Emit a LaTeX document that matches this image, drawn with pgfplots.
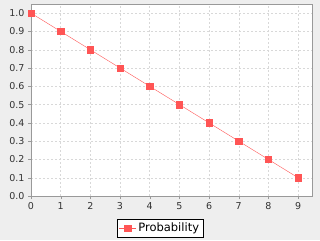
\documentclass[border=0pt]{standalone}
\usepackage{pgfplots}
\pgfplotsset{compat=1.18}
\usepackage{fontspec}
\setmainfont{DejaVu Sans}
\definecolor{bg}{HTML}{EEEEEE}
\definecolor{ser}{HTML}{FF5555}
\definecolor{grd}{HTML}{D8D8D8}
\begin{document}
\begin{tikzpicture}[x=1pt,y=1pt]
\fill[bg] (0,0) rectangle (320,240);
\begin{axis}[
  at={(31pt,44pt)}, anchor=south west,
  scale only axis, width=281pt, height=192pt,
  xmin=0, xmax=9.47, ymin=0, ymax=1.05,
  axis background/.style={fill=white},
  axis line style={draw=gray!80},
  xtick={0,1,...,9}, ytick={0,0.1,...,1.0},
  tick align=outside, tick pos=left,
  major tick length=3pt,
  tick style={draw=gray!80},
  grid=major, grid style={draw=grd, dash pattern=on 2pt off 2pt},
  tick label style={font=\fontsize{9.5}{11}\selectfont, text=black!80},
  /pgf/number format/assume math mode=true,
  yticklabel style={/pgf/number format/.cd, fixed, fixed zerofill, precision=1},
  legend style={at={(0.459,-0.167)}, anchor=center, draw=black, fill=white,
    font=\fontsize{11.5}{13}\selectfont, inner sep=2pt},
  legend cell align=left,
]
\addplot[ser, mark=square*, mark size=3.2pt, mark options={fill=ser, draw=ser}] coordinates {
(0,1.0) (1,0.9) (2,0.8) (3,0.7) (4,0.6) (5,0.5) (6,0.4) (7,0.3) (8,0.2) (9,0.1)
};
\addlegendentry{Probability}
\end{axis}
\end{tikzpicture}
\end{document}
